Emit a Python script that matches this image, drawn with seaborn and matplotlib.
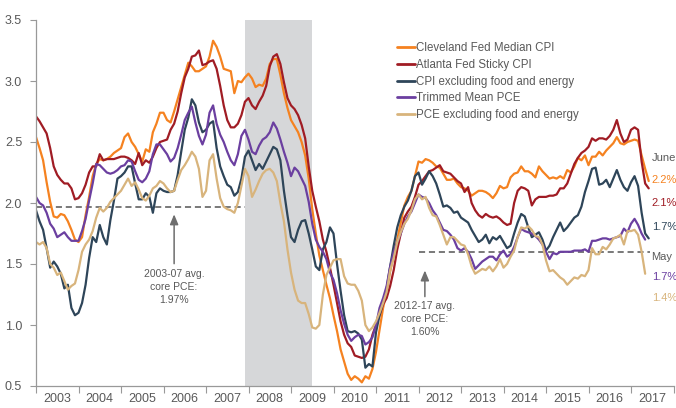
import matplotlib
matplotlib.use("Agg")
import matplotlib.pyplot as plt
import numpy as np
import pandas as pd
import seaborn as sns

# ---------------- data (monthly, Jan 2003 onward, % y/y) ----------------
cleveland_median_cpi = [
    2.54, 2.45, 2.35, 2.17, 2.01, 1.89, 1.88, 1.91, 1.90, 1.85, 1.78, 1.70,
    1.68, 1.72, 1.90, 2.05, 2.22, 2.32, 2.36, 2.35, 2.36, 2.38, 2.41, 2.43,
    2.45, 2.54, 2.57, 2.50, 2.46, 2.40, 2.34, 2.44, 2.42, 2.58, 2.65, 2.74,
    2.74, 2.68, 2.66, 2.75, 2.85, 2.95, 3.05, 3.15, 3.12, 3.08, 3.08, 3.10,
    3.12, 3.20, 3.33, 3.28, 3.20, 3.10, 3.09, 3.08, 2.90, 3.00, 2.99, 3.03,
    3.06, 3.02, 2.95, 2.97, 2.96, 3.02, 3.14, 3.18, 3.18, 3.05, 2.90, 2.78,
    2.68, 2.63, 2.58, 2.50, 2.39, 2.20, 1.95, 1.75, 1.57, 1.45, 1.33, 1.22,
    1.08, 0.95, 0.80, 0.70, 0.60, 0.55, 0.58, 0.56, 0.53, 0.58, 0.56, 0.64,
    0.78, 0.96, 1.14, 1.27, 1.44, 1.57, 1.70, 1.84, 1.98, 2.05, 2.10, 2.22,
    2.34, 2.33, 2.36, 2.35, 2.33, 2.30, 2.29, 2.24, 2.19, 2.19, 2.20, 2.16,
    2.13, 2.12, 2.10, 2.06, 2.08, 2.10, 2.10, 2.09, 2.07, 2.04, 2.08, 2.14,
    2.12, 2.13, 2.21, 2.24, 2.25, 2.30, 2.26, 2.26, 2.24, 2.21, 2.30, 2.26,
    2.23, 2.20, 2.21, 2.20, 2.22, 2.20, 2.27, 2.25, 2.30, 2.37, 2.35, 2.39,
    2.31, 2.38, 2.38, 2.42, 2.39, 2.43, 2.46, 2.49, 2.54, 2.49, 2.48, 2.50,
    2.51, 2.52, 2.51, 2.39, 2.28, 2.18,
]
atlanta_sticky_cpi = [
    2.71, 2.67, 2.62, 2.57, 2.45, 2.30, 2.23, 2.19, 2.16, 2.16, 2.12, 2.03,
    2.04, 2.08, 2.15, 2.25, 2.30, 2.30, 2.40, 2.35, 2.36, 2.36, 2.36, 2.37,
    2.38, 2.38, 2.37, 2.35, 2.32, 2.41, 2.31, 2.35, 2.33, 2.38, 2.45, 2.50,
    2.51, 2.52, 2.60, 2.65, 2.75, 2.90, 3.03, 3.10, 3.20, 3.21, 3.25, 3.13,
    3.14, 3.16, 3.17, 3.10, 2.96, 2.80, 2.68, 2.62, 2.62, 2.65, 2.72, 2.83,
    2.86, 2.80, 2.77, 2.83, 2.88, 2.96, 3.12, 3.20, 3.22, 3.14, 2.99, 2.86,
    2.80, 2.77, 2.72, 2.64, 2.53, 2.30, 2.10, 1.97, 1.85, 1.70, 1.60, 1.47,
    1.33, 1.18, 1.03, 0.92, 0.85, 0.82, 0.75, 0.74, 0.73, 0.74, 0.80, 0.92,
    1.00, 1.08, 1.17, 1.22, 1.32, 1.45, 1.62, 1.75, 1.88, 1.93, 1.97, 2.05,
    2.15, 2.18, 2.22, 2.26, 2.27, 2.29, 2.31, 2.26, 2.25, 2.24, 2.21, 2.18,
    2.16, 2.09, 2.13, 2.00, 1.94, 1.90, 1.88, 1.91, 1.89, 1.88, 1.89, 1.87,
    1.84, 1.82, 1.83, 2.00, 2.10, 2.13, 2.12, 2.10, 1.98, 2.03, 2.05, 2.05,
    2.05, 2.06, 2.06, 2.07, 2.12, 2.12, 2.16, 2.24, 2.32, 2.37, 2.41, 2.43,
    2.46, 2.53, 2.51, 2.53, 2.53, 2.52, 2.55, 2.60, 2.68, 2.57, 2.50, 2.52,
    2.60, 2.62, 2.60, 2.34, 2.16, 2.12,
]
cpi_core = [
    1.94, 1.85, 1.78, 1.63, 1.47, 1.52, 1.48, 1.42, 1.30, 1.33, 1.14, 1.08,
    1.10, 1.18, 1.33, 1.55, 1.72, 1.68, 1.82, 1.72, 1.66, 1.86, 2.02, 2.20,
    2.22, 2.25, 2.30, 2.30, 2.16, 2.03, 2.03, 2.08, 2.05, 1.92, 2.08, 2.12,
    2.10, 2.09, 2.09, 2.10, 2.23, 2.42, 2.60, 2.70, 2.85, 2.80, 2.66, 2.58,
    2.60, 2.65, 2.67, 2.45, 2.30, 2.22, 2.15, 2.13, 2.06, 2.09, 2.20, 2.38,
    2.43, 2.35, 2.27, 2.32, 2.28, 2.34, 2.40, 2.46, 2.44, 2.35, 2.10, 1.90,
    1.72, 1.68, 1.78, 1.85, 1.86, 1.75, 1.62, 1.48, 1.45, 1.62, 1.68, 1.80,
    1.75, 1.50, 1.28, 1.08, 0.95, 0.94, 0.95, 0.93, 0.88, 0.65, 0.68, 0.66,
    0.94, 1.08, 1.19, 1.30, 1.48, 1.65, 1.80, 1.90, 1.97, 2.02, 2.10, 2.22,
    2.25, 2.15, 2.20, 2.26, 2.22, 2.16, 2.07, 1.97, 1.98, 1.96, 1.92, 1.93,
    1.88, 1.86, 1.84, 1.78, 1.73, 1.68, 1.70, 1.74, 1.67, 1.72, 1.70, 1.73,
    1.68, 1.63, 1.65, 1.75, 1.84, 1.91, 1.89, 1.80, 1.72, 1.74, 1.76, 1.70,
    1.61, 1.65, 1.72, 1.78, 1.84, 1.77, 1.80, 1.84, 1.88, 1.90, 1.97, 2.09,
    2.18, 2.28, 2.29, 2.15, 2.16, 2.19, 2.13, 2.20, 2.27, 2.19, 2.13, 2.10,
    2.17, 2.22, 2.14, 1.92, 1.75, 1.71,
]
trimmed_mean_pce = [
    2.05, 2.00, 1.98, 1.92, 1.83, 1.79, 1.72, 1.74, 1.76, 1.72, 1.69, 1.69,
    1.69, 1.77, 1.87, 2.02, 2.16, 2.32, 2.31, 2.28, 2.25, 2.24, 2.25, 2.27,
    2.30, 2.31, 2.35, 2.34, 2.26, 2.19, 2.17, 2.20, 2.26, 2.40, 2.48, 2.48,
    2.44, 2.40, 2.34, 2.37, 2.45, 2.56, 2.68, 2.74, 2.79, 2.66, 2.55, 2.48,
    2.56, 2.74, 2.80, 2.65, 2.56, 2.50, 2.42, 2.35, 2.31, 2.40, 2.55, 2.60,
    2.52, 2.42, 2.40, 2.47, 2.52, 2.54, 2.58, 2.66, 2.61, 2.52, 2.42, 2.33,
    2.22, 2.29, 2.26, 2.20, 2.14, 2.01, 1.83, 1.70, 1.64, 1.60, 1.54, 1.43,
    1.37, 1.26, 1.12, 1.01, 0.92, 0.87, 0.90, 0.92, 0.91, 0.84, 0.86, 0.90,
    1.00, 1.14, 1.22, 1.32, 1.48, 1.60, 1.68, 1.75, 1.83, 1.89, 1.93, 2.00,
    2.07, 2.05, 2.04, 2.00, 1.94, 1.90, 1.84, 1.78, 1.77, 1.74, 1.70, 1.63,
    1.61, 1.63, 1.60, 1.54, 1.46, 1.49, 1.52, 1.54, 1.56, 1.56, 1.53, 1.58,
    1.61, 1.56, 1.58, 1.64, 1.72, 1.79, 1.77, 1.76, 1.75, 1.73, 1.70, 1.66,
    1.60, 1.54, 1.59, 1.58, 1.60, 1.60, 1.60, 1.60, 1.61, 1.61, 1.61, 1.62,
    1.60, 1.69, 1.69, 1.70, 1.71, 1.71, 1.70, 1.71, 1.72, 1.73, 1.79, 1.76,
    1.83, 1.87, 1.82, 1.75, 1.70,
]
pce_core = [
    1.68, 1.66, 1.68, 1.63, 1.50, 1.47, 1.41, 1.43, 1.36, 1.29, 1.32, 1.34,
    1.45, 1.60, 1.66, 1.70, 1.77, 1.88, 1.96, 1.93, 1.96, 2.01, 2.04, 2.07,
    2.10, 2.15, 2.20, 2.14, 2.17, 2.11, 2.04, 2.02, 2.06, 2.12, 2.14, 2.18,
    2.16, 2.12, 2.09, 2.10, 2.19, 2.27, 2.31, 2.36, 2.42, 2.38, 2.28, 2.05,
    2.10, 2.35, 2.40, 2.20, 2.04, 1.97, 1.95, 1.94, 1.92, 2.00, 2.14, 2.28,
    2.22, 2.05, 2.11, 2.18, 2.24, 2.27, 2.28, 2.25, 2.18, 2.00, 1.85, 1.62,
    1.43, 1.29, 1.20, 1.18, 1.18, 1.09, 0.98, 0.97, 1.00, 1.25, 1.41, 1.47,
    1.53, 1.54, 1.54, 1.40, 1.34, 1.33, 1.33, 1.28, 1.20, 1.00, 0.95, 0.98,
    1.03, 1.10, 1.18, 1.27, 1.45, 1.55, 1.68, 1.76, 1.83, 1.87, 1.94, 2.03,
    2.07, 2.03, 2.05, 1.96, 1.90, 1.89, 1.82, 1.74, 1.66, 1.72, 1.72, 1.69,
    1.66, 1.65, 1.58, 1.48, 1.42, 1.44, 1.46, 1.45, 1.48, 1.44, 1.48, 1.54,
    1.47, 1.50, 1.56, 1.61, 1.72, 1.80, 1.79, 1.81, 1.78, 1.73, 1.72, 1.66,
    1.53, 1.44, 1.45, 1.42, 1.39, 1.37, 1.33, 1.36, 1.39, 1.38, 1.41, 1.40,
    1.45, 1.63, 1.58, 1.58, 1.64, 1.62, 1.66, 1.71, 1.72, 1.74, 1.66, 1.77,
    1.77, 1.78, 1.74, 1.60, 1.42,
]

series_names = ["Cleveland Fed Median CPI", "Atlanta Fed Sticky CPI",
                "CPI excluding food and energy", "Trimmed Mean PCE",
                "PCE excluding food and energy"]
series_values = [cleveland_median_cpi, atlanta_sticky_cpi, cpi_core,
                 trimmed_mean_pce, pce_core]
colors = ["#F58220", "#A01C24", "#2E4559", "#6B3FA0", "#D8B47C"]

year_labels = [str(y) for y in range(2003, 2018)]
end_labels = ["2.2%", "2.1%", "1.7%", "1.7%", "1.4%"]
avg_early, avg_late = 1.97, 1.60
recession = (2007 + 11 / 12, 2009 + 6 / 12)

frames = []
for name, vals in zip(series_names, series_values):
    frames.append(pd.DataFrame({"date": 2003 + np.arange(len(vals)) / 12.0,
                                "value": vals, "series": name}))
df = pd.concat(frames, ignore_index=True)

# ---------------- style ----------------
sns.set_style("ticks")
plt.rcParams["font.family"] = ["Liberation Sans", "DejaVu Sans"]
grey_txt = "#595959"

fig = plt.figure(figsize=(6.76, 4.08), dpi=100)
ax = fig.add_axes([36 / 676, 22 / 408, 637.5 / 676, 366 / 408])

ax.axvspan(*recession, color="#D6D7D9", lw=0, zorder=0)

sns.lineplot(data=df, x="date", y="value", hue="series", hue_order=series_names,
             palette=colors, linewidth=1.6, estimator=None, sort=False, ax=ax)

ax.hlines(avg_early, 2003, recession[0], colors="#555555", linestyles=(0, (4, 2.5)),
          lw=1.1, zorder=1)
ax.hlines(avg_late, 2012.0, 2017.45, colors="#555555", linestyles=(0, (4, 2.5)),
          lw=1.1, zorder=1)

arrow_kw = dict(arrowstyle="-|>,head_length=0.6,head_width=0.25", color="#6E6E6E", lw=1.1)
ax.annotate("", xy=(2006.25, 1.93), xytext=(2006.25, 1.48), arrowprops=arrow_kw)
ax.text(2006.25, 1.31, "2003-07 avg.\ncore PCE:\n1.97%", ha="center", va="center",
        fontsize=7.5, color=grey_txt, linespacing=1.35)
ax.annotate("", xy=(2012.15, 1.47), xytext=(2012.15, 1.21), arrowprops=arrow_kw)
ax.text(2012.15, 1.05, "2012-17 avg.\ncore PCE:\n1.60%", ha="center", va="center",
        fontsize=7.5, color=grey_txt, linespacing=1.35)

# right-hand end labels (kept fully inside the canvas)
xr = 2017.49
fs_end = 8
ax.text(xr, 2.37, "June", color=grey_txt, fontsize=fs_end, va="center", clip_on=False)
ax.text(xr, 2.19, end_labels[0], color=colors[0], fontsize=fs_end, va="center", clip_on=False)
ax.text(xr, 2.00, end_labels[1], color=colors[1], fontsize=fs_end, va="center", clip_on=False)
ax.text(xr, 1.80, end_labels[2], color=colors[2], fontsize=fs_end, va="center", clip_on=False)
ax.text(xr - 0.02, 1.56, "May", color=grey_txt, fontsize=fs_end, va="center", clip_on=False)
ax.text(xr, 1.39, end_labels[3], color=colors[3], fontsize=fs_end, va="center", clip_on=False)
ax.text(xr, 1.22, end_labels[4], color=colors[4], fontsize=fs_end, va="center", clip_on=False)

# axes
ax.set_xlim(2003, 2018)
ax.set_ylim(0.5, 3.5)
ax.set_yticks(np.arange(0.5, 3.51, 0.5))
ax.set_yticklabels([f"{v:.1f}" for v in np.arange(0.5, 3.51, 0.5)])
ax.set_xticks(np.arange(2003, 2019), labels=[""] * 16)
ax.set_xticks(np.arange(2003.5, 2018, 1.0), minor=True)
ax.set_xticklabels(year_labels, minor=True)
ax.tick_params(axis="x", which="major", length=5, width=0.8, color="#999999")
ax.tick_params(axis="x", which="minor", length=0, pad=5, labelsize=9, labelcolor=grey_txt)
ax.tick_params(axis="y", length=4, width=0.8, color="#999999", pad=6,
               labelsize=9, labelcolor=grey_txt)
ax.set_xlabel("")
ax.set_ylabel("")
for s in ["top", "right"]:
    ax.spines[s].set_visible(False)
for s in ["left", "bottom"]:
    ax.spines[s].set_color("#999999")
    ax.spines[s].set_linewidth(0.9)

handles, labels = ax.get_legend_handles_labels()
leg = ax.legend(handles, labels, loc="upper left", bbox_to_anchor=(0.566, 0.94),
                frameon=False, fontsize=8.3, handlelength=1.55, handletextpad=0.15,
                labelspacing=0.42, borderpad=0, borderaxespad=0)
for t in leg.get_texts():
    t.set_color(grey_txt)
for h in leg.get_lines():
    h.set_linewidth(2.0)

fig.savefig("out.png", dpi=100)
